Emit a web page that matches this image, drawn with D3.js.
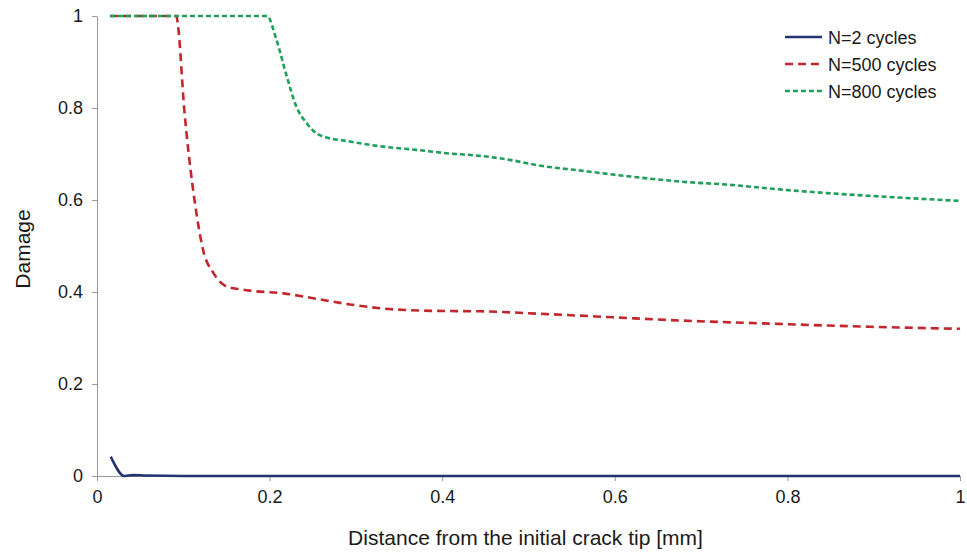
<!DOCTYPE html>
<html>
<head>
<meta charset="utf-8">
<script src="https://cdn.jsdelivr.net/npm/d3@7"></script>
<style>
  body { margin: 0; background: #fff; }
  svg text { font-family: "Liberation Sans", Arial, sans-serif; fill: #1a1a1a; }
  .axis path, .axis line { stroke: #9a9a9a; }
</style>
</head>
<body>
<div id="containerGraph"></div>
<script>
// series values (distance mm, damage)
var n2x   = [0.016, 0.032, 0.042, 0.056, 0.1, 0.3, 0.5, 0.7, 1.0];
var n2y   = [0.042, 0.0, 0.002, 0.001, 0.0, 0.0, 0.0, 0.0, 0.0];

var n500x = [0.015, 0.092, 0.094, 0.101, 0.108, 0.113, 0.123, 0.135, 0.150, 0.166, 0.177, 0.216, 0.255, 0.293, 0.332, 0.390, 0.444, 0.521, 0.598, 0.676, 0.768, 0.884, 1.0];
var n500y = [1.0, 1.0, 0.977, 0.8, 0.672, 0.6, 0.491, 0.441, 0.412, 0.406, 0.403, 0.397, 0.385, 0.373, 0.364, 0.359, 0.358, 0.352, 0.345, 0.338, 0.332, 0.325, 0.320];

var n800x = [0.015, 0.197, 0.208, 0.220, 0.231, 0.243, 0.258, 0.293, 0.332, 0.370, 0.409, 0.444, 0.482, 0.509, 0.560, 0.618, 0.676, 0.733, 0.791, 0.846, 0.923, 1.0];
var n800y = [1.0, 1.0, 0.948, 0.868, 0.803, 0.767, 0.741, 0.727, 0.716, 0.709, 0.701, 0.696, 0.686, 0.676, 0.664, 0.651, 0.640, 0.633, 0.623, 0.615, 0.606, 0.598];

var names  = ["N=2 cycles", "N=500 cycles", "N=800 cycles"];
var xTicks = [0, 0.2, 0.4, 0.6, 0.8, 1];
var yTicks = [0, 0.2, 0.4, 0.6, 0.8, 1];

var colors = ["#233370", "#c1272d", "#1fa058"];
var dashes = [null, "8,5", "5,3"];

var margin = {top: 16, right: 7, bottom: 80, left: 97},
    width = 967 - margin.left - margin.right,
    height = 556 - margin.top - margin.bottom;

var x = d3.scaleLinear().domain([0, 1]).range([0, width]);
var y = d3.scaleLinear().domain([0, 1]).range([height, 0]);

var svg = d3.select("#containerGraph")
    .append("svg")
        .attr("width", 967)
        .attr("height", 556)
    .append("g")
        .attr("transform", "translate(" + margin.left + "," + margin.top + ")");

// axes
var xAxis = d3.axisBottom(x).tickValues(xTicks).tickSizeInner(5).tickSizeOuter(0).tickPadding(7)
    .tickFormat(function(d){ return d3.format("")(d); });
var yAxis = d3.axisLeft(y).tickValues(yTicks).tickSizeInner(5).tickSizeOuter(0).tickPadding(9)
    .tickFormat(function(d){ return d3.format("")(d); });

svg.append("g")
    .attr("class", "axis")
    .attr("transform", "translate(0," + height + ")")
    .call(xAxis)
    .selectAll("text").style("font-size", "18px").attr("dy", "0.85em");

svg.append("g")
    .attr("class", "axis")
    .call(yAxis)
    .selectAll("text").style("font-size", "18px");

svg.selectAll(".axis line").attr("stroke-width", 1);

var line = d3.line()
    .x(function(d) { return x(d[0]); })
    .y(function(d) { return y(d[1]); })
    .curve(d3.curveMonotoneX);

var series = [d3.zip(n2x, n2y), d3.zip(n500x, n500y), d3.zip(n800x, n800y)];

series.forEach(function(d, i) {
    svg.append("path")
        .attr("class", "line")
        .attr("d", line(d))
        .attr("fill", "none")
        .attr("stroke", colors[i])
        .attr("stroke-width", 2.6)
        .attr("stroke-dasharray", dashes[i]);
});

// axis titles
svg.append("text")
    .attr("x", width / 2 - 3)
    .attr("y", height + 69)
    .attr("text-anchor", "middle")
    .style("font-size", "21px")
    .text("Distance from the initial crack tip [mm]");

svg.append("text")
    .attr("transform", "translate(" + (-margin.left + 30) + "," + (y(0.5) + 3) + ") rotate(-90)")
    .attr("text-anchor", "middle")
    .style("font-size", "21px")
    .text("Damage");

// legend
var legend = svg.append("g").attr("transform", "translate(" + (785 - margin.left) + "," + (37 - margin.top) + ")");
names.forEach(function(n, i) {
    legend.append("line")
        .attr("x1", 0).attr("x2", 37)
        .attr("y1", i * 27).attr("y2", i * 27)
        .attr("stroke", colors[i])
        .attr("stroke-width", 2.6)
        .attr("stroke-dasharray", dashes[i]);
    legend.append("text")
        .attr("x", 43)
        .attr("y", i * 27 + 6.5)
        .style("font-size", "18px")
        .text(n);
});
</script>
</body>
</html>
